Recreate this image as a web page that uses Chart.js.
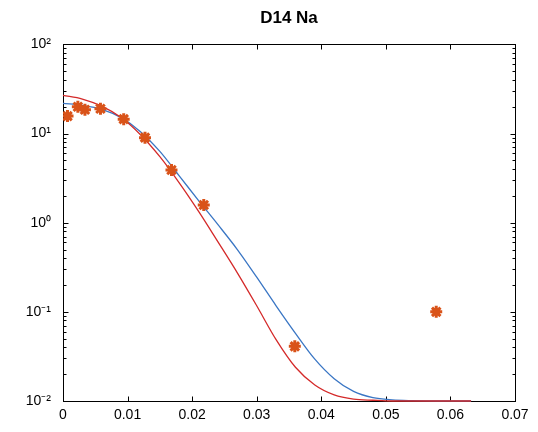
<!DOCTYPE html>
<html><head><meta charset="utf-8">
<script src="https://cdn.jsdelivr.net/npm/chart.js@4/dist/chart.umd.min.js"></script>
<style>html,body{margin:0;padding:0;background:#fff}</style>
</head><body>
<canvas id="c" width="538" height="432"></canvas>
<script>
const chartTitle = 'D14 Na';
// measured points (asterisks)
const pointX = [0.0007, 0.0023, 0.0034, 0.0058, 0.0094, 0.0127, 0.0168, 0.0218, 0.0359, 0.0578];
const pointY = [15.7, 20.0, 18.5, 19.0, 14.5, 9.0, 3.9, 1.58, 0.041, 0.100];
// fitted curves
const curveX = [0, 0.003, 0.006, 0.009, 0.012, 0.015, 0.018, 0.021, 0.024, 0.027, 0.030, 0.033, 0.036, 0.039, 0.042, 0.045, 0.048, 0.051, 0.054, 0.058, 0.0632];
const blueY = [21.8, 20.7, 18.7, 15.1, 10.5, 6.3, 3.35, 1.77, 0.95, 0.50, 0.245, 0.117, 0.0575, 0.0295, 0.0178, 0.0128, 0.0109, 0.0103, 0.0101, 0.0100, 0.0100];
const redY  = [26.8, 24.4, 20.3, 15.1, 9.7, 5.5, 2.8, 1.34, 0.61, 0.274, 0.117, 0.0488, 0.0239, 0.0151, 0.0117, 0.0105, 0.0102, 0.0100, 0.0100, 0.0100, 0.0100];
const xTicks = [0, 0.01, 0.02, 0.03, 0.04, 0.05, 0.06, 0.07];
const xTickLabels = ['0', '0.01', '0.02', '0.03', '0.04', '0.05', '0.06', '0.07'];
const yTicks = [0.01, 0.1, 1, 10, 100];
const yTickLabels = ['10\u207B\u00B2', '10\u207B\u00B9', '10\u2070', '10\u00B9', '10\u00B2'];

const FONT = 'Liberation Sans, Arial, Helvetica, sans-serif';

const frame = {
  id: 'frame',
  beforeDatasetsDraw(chart) {
    const {ctx, chartArea: a, scales: {x, y}} = chart;
    ctx.save();
    ctx.strokeStyle = '#000';
    ctx.lineWidth = 1;
    const L = Math.round(a.left) + 0.5, R = Math.round(a.right) + 0.5;
    const T = Math.round(a.top) + 0.5, B = Math.round(a.bottom) + 0.5;
    ctx.strokeRect(L, T, R - L, B - T);
    ctx.beginPath();
    xTicks.forEach(v => {
      const p = Math.round(x.getPixelForValue(v)) + 0.5;
      ctx.moveTo(p, B); ctx.lineTo(p, B - 5);
      ctx.moveTo(p, T); ctx.lineTo(p, T + 5);
    });
    for (let k = -2; k <= 2; k++) {
      for (let m = 1; m <= 9; m++) {
        const v = m * Math.pow(10, k);
        if (v > 100.0001) break;
        const p = Math.round(y.getPixelForValue(v)) + 0.5;
        const len = m === 1 ? 5 : 3;
        ctx.moveTo(L, p); ctx.lineTo(L + len, p);
        ctx.moveTo(R, p); ctx.lineTo(R - len, p);
      }
    }
    ctx.stroke();
    ctx.restore();
  }
};

new Chart(document.getElementById('c'), {
  data: {
    datasets: [
      {
        type: 'scatter', label: 'data',
        data: pointX.map((v, i) => ({x: v, y: pointY[i]})),
        pointStyle: 'star', pointRadius: 6, pointBorderWidth: 3,
        borderColor: '#D95319', backgroundColor: '#D95319',
        order: 0
      },
      {
        type: 'line', label: 'fit 2',
        data: curveX.map((v, i) => ({x: v, y: redY[i]})),
        borderColor: '#D42A2A', borderWidth: 1.3, pointRadius: 0,
        cubicInterpolationMode: 'monotone', fill: false, clip: 3,
        order: 1
      },
      {
        type: 'line', label: 'fit 1',
        data: curveX.map((v, i) => ({x: v, y: blueY[i]})),
        borderColor: '#3A76C4', borderWidth: 1.3, pointRadius: 0,
        cubicInterpolationMode: 'monotone', fill: false, clip: 3,
        order: 2
      }
    ]
  },
  options: {
    responsive: false,
    animation: false,
    devicePixelRatio: 1,
    layout: {padding: {left: 0, right: 23, top: 0, bottom: 0}},
    plugins: {
      legend: {display: false},
      tooltip: {enabled: false},
      title: {
        display: true, text: chartTitle, color: '#000', fullSize: false,
        font: {family: FONT, size: 17, weight: 'bold'},
        padding: {top: 8, bottom: 16}
      }
    },
    scales: {
      x: {
        type: 'linear', min: 0, max: 0.07,
        grid: {display: false, drawTicks: false},
        border: {display: false},
        afterBuildTicks: s => { s.ticks = xTicks.map(v => ({value: v})); },
        afterFit: s => { s.height = 31; },
        ticks: {
          color: '#000', padding: 6, maxRotation: 0, autoSkip: false,
          font: {family: FONT, size: 14},
          callback: (v) => { const i = xTicks.findIndex(t => Math.abs(t - v) < 1e-9); return i >= 0 ? xTickLabels[i] : ''; }
        }
      },
      y: {
        type: 'logarithmic', min: 0.01, max: 100,
        grid: {display: false, drawTicks: false},
        border: {display: false},
        afterBuildTicks: s => { s.ticks = yTicks.map(v => ({value: v})); },
        afterFit: s => { s.width = 63; },
        ticks: {
          color: '#000', padding: 12, autoSkip: false,
          font: {family: FONT, size: 14},
          callback: (v) => { const i = yTicks.findIndex(t => Math.abs(Math.log10(t) - Math.log10(v)) < 1e-6); return i >= 0 ? yTickLabels[i] : ''; }
        }
      }
    }
  },
  plugins: [frame]
});
</script>
</body></html>
